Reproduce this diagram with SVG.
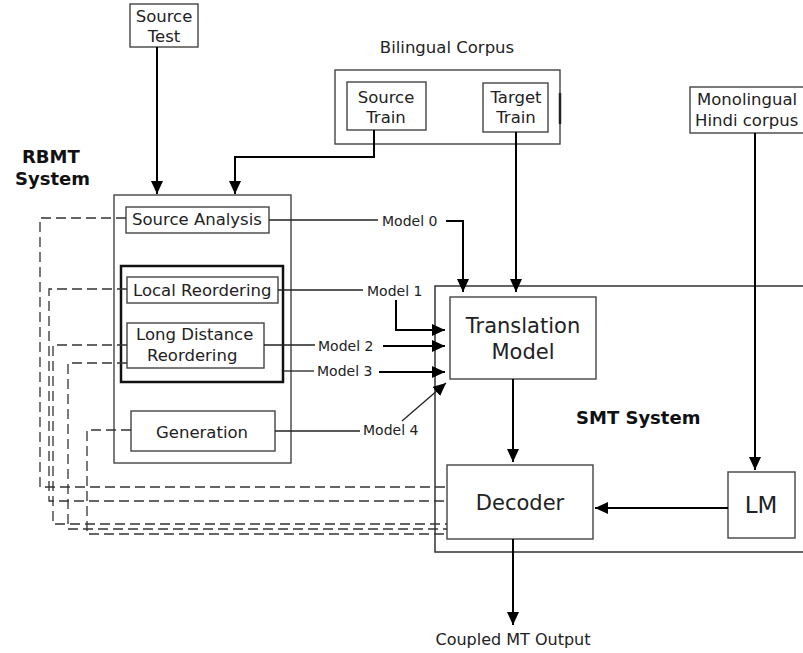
<svg xmlns="http://www.w3.org/2000/svg" width="803" height="653" viewBox="0 0 803 653">
  <defs>
    <marker id="arrow" markerUnits="userSpaceOnUse" markerWidth="13" markerHeight="12" refX="13" refY="6" orient="auto">
      <path d="M0,0 L13,6 L0,12 z" fill="#000"/>
    </marker>
  </defs>
  <style>
    .box { fill: #fff; stroke: #444; stroke-width: 1.4; }
    .t { font-family: "DejaVu Sans", Verdana, sans-serif; fill: #222; }
    .m { font-size: 16.5px; }
    .s { font-size: 14px; }
    .l { font-size: 21px; }
    .b { font-size: 18px; font-weight: bold; fill: #111; }
    .flow { fill: none; stroke: #000; stroke-width: 2; }
    .thin { fill: none; stroke: #222; stroke-width: 1.3; }
    .dash { fill: none; stroke: #333; stroke-width: 1.3; stroke-dasharray: 10 5; }
  </style>

  <rect width="803" height="653" fill="#fff"/>

  <!-- SMT system frame (open on the right) -->
  <g id="smt-system">
    <path d="M803,286 H435 V552 H803" fill="none" stroke="#333" stroke-width="1.5"/>
    <text class="t b" x="576" y="424">SMT System</text>
  </g>

  <!-- RBMT system frame -->
  <g id="rbmt-system">
    <rect class="box" x="114" y="195" width="177" height="268"/>
    <text class="t b" x="22" y="163">RBMT</text>
    <text class="t b" x="15" y="185">System</text>
  </g>

  <g id="source-test">
    <rect class="box" x="130" y="4" width="68" height="43"/>
    <text class="t m" x="164" y="22" text-anchor="middle">Source</text>
    <text class="t m" x="164" y="42" text-anchor="middle">Test</text>
  </g>

  <g id="bilingual-corpus">
    <rect class="box" x="335" y="70" width="225" height="74"/>
    <line x1="560" y1="93" x2="560" y2="124" stroke="#222" stroke-width="2.5"/>
    <text class="t m" x="447" y="53" text-anchor="middle">Bilingual Corpus</text>
  </g>

  <g id="source-train">
    <rect class="box" x="347" y="82" width="79" height="48"/>
    <text class="t m" x="386" y="103" text-anchor="middle">Source</text>
    <text class="t m" x="386" y="123" text-anchor="middle">Train</text>
  </g>

  <g id="target-train">
    <rect class="box" x="483" y="83" width="65" height="49"/>
    <text class="t m" x="516" y="103" text-anchor="middle">Target</text>
    <text class="t m" x="516" y="123" text-anchor="middle">Train</text>
  </g>

  <g id="monolingual-corpus">
    <rect class="box" x="690" y="87" width="130" height="46"/>
    <text class="t m" x="697" y="105">Monolingual</text>
    <text class="t m" x="695" y="126">Hindi corpus</text>
  </g>

  <g id="source-analysis">
    <rect class="box" x="126" y="207" width="143" height="26"/>
    <text class="t m" x="132" y="225">Source Analysis</text>
  </g>

  <g id="reordering">
    <rect x="121" y="266" width="162" height="116" fill="none" stroke="#111" stroke-width="2.5"/>
  </g>

  <g id="local-reordering">
    <rect class="box" x="127" y="277" width="151" height="26"/>
    <text class="t m" x="133" y="296">Local Reordering</text>
  </g>

  <g id="long-distance-reordering">
    <rect class="box" x="127" y="323" width="137" height="45"/>
    <text class="t m" x="136" y="340">Long Distance</text>
    <text class="t m" x="147" y="361">Reordering</text>
  </g>

  <g id="generation">
    <rect class="box" x="131" y="411" width="144" height="40"/>
    <text class="t m" x="156" y="438">Generation</text>
  </g>

  <g id="translation-model">
    <rect class="box" x="450" y="297" width="146" height="82"/>
    <text class="t l" x="523" y="333" text-anchor="middle">Translation</text>
    <text class="t l" x="523" y="359" text-anchor="middle">Model</text>
  </g>

  <g id="decoder">
    <rect class="box" x="447" y="465" width="146" height="74"/>
    <text class="t l" x="520" y="510" text-anchor="middle">Decoder</text>
  </g>

  <g id="lm">
    <rect class="box" x="728" y="472" width="67" height="66"/>
    <text class="t" x="761" y="513" text-anchor="middle" font-size="23">LM</text>
  </g>

  <g id="output">
    <text class="t" x="513" y="645" text-anchor="middle" font-size="16">Coupled MT Output</text>
  </g>

  <g id="connectors">
    <!-- inputs into the RBMT system -->
    <path class="flow" d="M157,47 V194" marker-end="url(#arrow)"/>
    <path class="flow" d="M374,130 V157 H235 V194" marker-end="url(#arrow)"/>
    <!-- inputs into the SMT system -->
    <path class="flow" d="M516,132 V292" marker-end="url(#arrow)"/>
    <path class="flow" d="M755,133 V470" marker-end="url(#arrow)"/>

    <!-- RBMT modules feeding the translation model -->
    <path class="thin" d="M269,220 H378"/>
    <text class="t s" x="382" y="226">Model 0</text>
    <path class="flow" d="M446,221 H463 V292" marker-end="url(#arrow)"/>

    <path class="thin" d="M278,290 H363"/>
    <text class="t s" x="367" y="296">Model 1</text>
    <path class="flow" d="M396,300 V330 H445" marker-end="url(#arrow)"/>

    <path class="thin" d="M264,345 H315"/>
    <text class="t s" x="318" y="351">Model 2</text>
    <path class="flow" d="M383,346 H445" marker-end="url(#arrow)"/>

    <path class="thin" d="M283,371 H314"/>
    <text class="t s" x="317" y="376">Model 3</text>
    <path class="flow" d="M379,372 H445" marker-end="url(#arrow)"/>

    <path class="thin" d="M275,431 H360"/>
    <text class="t s" x="363" y="435">Model 4</text>
    <path class="thin" d="M402,421 L446,383" marker-end="url(#arrow)"/>

    <!-- SMT pipeline -->
    <path class="flow" d="M513,379 V462" marker-end="url(#arrow)"/>
    <path class="flow" d="M728,508 H595" marker-end="url(#arrow)"/>
    <path class="flow" d="M513,539 V625" marker-end="url(#arrow)"/>

    <!-- dashed RBMT outputs routed to the decoder -->
    <path class="dash" d="M126,218 H40 V487 H447"/>
    <path class="dash" d="M127,289 H49 V501 H447"/>
    <path class="dash" d="M127,345 H53 V524 H447"/>
    <path class="dash" d="M127,363 H68 V529 H447"/>
    <path class="dash" d="M131,430 H87 V534 H447"/>
  </g>
</svg>
